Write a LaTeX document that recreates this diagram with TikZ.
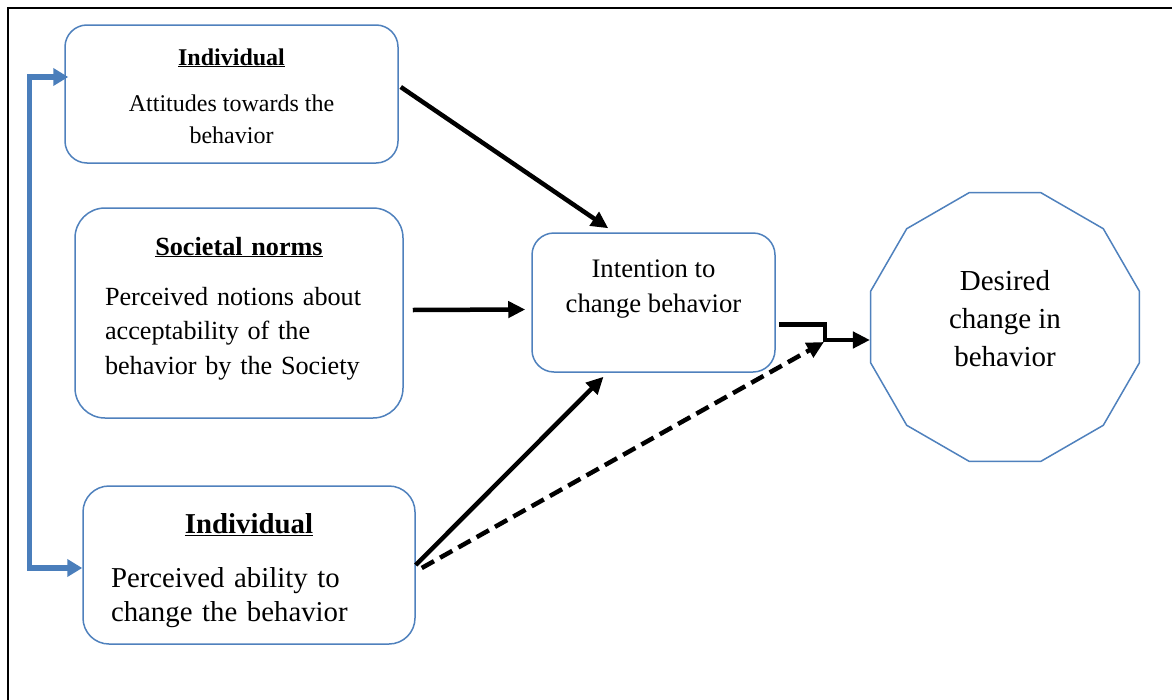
\documentclass[tikz,border=0pt]{standalone}
\usepackage{fontspec}
\setmainfont{Liberation Serif}
\usetikzlibrary{arrows.meta,shapes.geometric,calc}
\definecolor{boxblue}{HTML}{4F81BD}
\definecolor{linkblue}{HTML}{4A7EBB}
\newcommand{\topr}[1]{\rule{0pt}{#1pt}}
\newcommand{\botr}[1]{\rule[-#1pt]{0pt}{#1pt}}
\begin{document}
\begin{tikzpicture}[x=1pt,y=-1pt,
  box/.style={draw=boxblue, line width=1.5pt, rounded corners=22pt, inner sep=0pt, fill=white},
  blk/.style={line width=4.5pt, -{Triangle[length=17pt,width=16pt]}},
  dsh/.style={line width=4.5pt, dash pattern=on 14pt off 7pt, -{Triangle[length=17pt,width=16pt]}},
  bluelink/.style={draw=linkblue, line width=5.5pt, {Triangle[length=15pt,width=17pt]}-{Triangle[length=15pt,width=17pt]}},
]
\useasboundingbox (0,0) rectangle (1172,699);
\fill[white] (0,0) rectangle (1172,699);
% frame
\draw[line width=2pt] (8,705) -- (8,8) -- (1180,8);

% nodes
\node[box, minimum width=333pt, minimum height=138pt, align=center,
      font=\fontsize{24}{32}\selectfont] (b1) at (231.5,94)
  {\topr{30}\underline{\textbf{Individual}}\\[14pt]Attitudes towards the\\behavior\botr{10}};

\node[box, minimum width=328pt, minimum height=210pt, rounded corners=30pt, text width=268pt, align=left,
      font=\fontsize{26.2}{34.5}\selectfont] (b2) at (239,313)
  {\topr{23}\makebox[\linewidth][c]{\underline{\textbf{Societal norms}}}\\[15.5pt]Perceived notions about\\acceptability of the\\behavior by the Society\botr{20}};

\node[box, minimum width=332pt, minimum height=158pt, rounded corners=26pt, text width=276pt, align=left,
      font=\fontsize{28.8}{34}\selectfont] (b3) at (249,565)
  {\topr{34}\makebox[\linewidth][c]{\underline{\textbf{Individual}}}\\[20pt]Perceived ability to\\change the behavior\botr{10}};

\node[box, minimum width=243pt, minimum height=139pt, align=center,
      font=\fontsize{26.7}{35}\selectfont] (b4) at (653.5,302.5)
  {\topr{22}Intention to\\change behavior\botr{38}};

\node[draw=boxblue, line width=1.5pt, regular polygon, regular polygon sides=12,
      minimum size=278pt, inner sep=0pt, align=center,
      font=\fontsize{29}{38}\selectfont] (d) at (1005,327)
  {\topr{25}Desired\\change in\\behavior\botr{23}};

% connectors
\coordinate (j) at ($(d.west)+(-46,15)$);
\draw[blk] ($(b1.east)+(2,-7)$) -- ($(b4.north west)+(77,-4)$);
\draw[blk] ($(b2.east)+(9,-3)$) -- ($(b4.west)+(-6,7)$);
\draw[blk] ($(b3.east)+(0,0)$) -- ($(b4.south)+(-50,4)$);
\draw[dsh] ($(b3.east)+(6,3)$) -- (j);
\draw[blk] ($(b4.east)+(3,22)$) -- ++(46,0) |- ($(d.west)+(0,13)$);
\draw[bluelink] ($(b1.west)+(4,-17)$) -- ++(-39,0) |- ($(b3.west)+(0,3)$);
\end{tikzpicture}
\end{document}
